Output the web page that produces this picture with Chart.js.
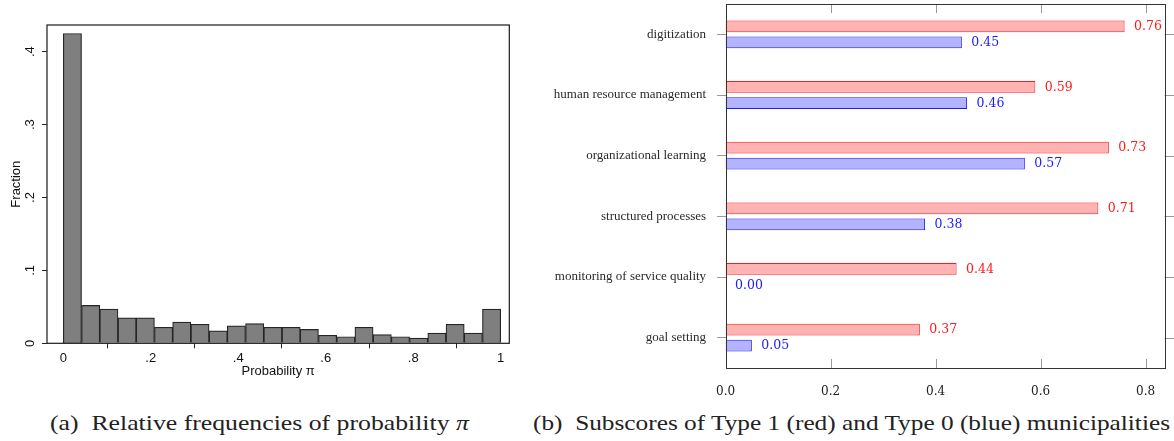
<!DOCTYPE html>
<html>
<head>
<meta charset="utf-8">
<script src="https://cdn.jsdelivr.net/npm/chart.js@4.4.1/dist/chart.umd.min.js"></script>
<style>
  html, body { margin: 0; padding: 0; background: #fff; }
  #wrap { position: relative; width: 1174px; height: 441px; overflow: hidden; }
  canvas { position: absolute; top: 0; }
  #histCanvas { left: 0; }
  #barCanvas { left: 540px; }
  .caption { position: absolute; top: 410px; font-family: 'Liberation Serif', serif; font-size: 22px; line-height: 26px; color: #222; white-space: nowrap; transform-origin: 0 0; }
</style>
</head>
<body>
<div id="wrap">
  <canvas id="histCanvas" width="520" height="400"></canvas>
  <canvas id="barCanvas" width="634" height="400"></canvas>
  <div class="caption" data-left="50" data-right="469">(a)&nbsp; Relative frequencies of probability <i>π</i></div>
  <div class="caption" data-left="533" data-right="1170">(b)&nbsp; Subscores of Type 1 (red) and Type 0 (blue) municipalities</div>
</div>
<script>
// left panel: histogram of probability pi, 24 bins on [0, 1]
const binCount = 24;
const fractions = [0.425, 0.052, 0.047, 0.035, 0.035, 0.022, 0.029, 0.026, 0.017, 0.024, 0.027, 0.022,
                   0.022, 0.019, 0.011, 0.009, 0.022, 0.012, 0.009, 0.007, 0.014, 0.026, 0.014, 0.047];
const histXTicks = [0, 0.2, 0.4, 0.6, 0.8, 1];
const histXLabels = ['0', '.2', '.4', '.6', '.8', '1'];
const histYTicks = [0, 0.1, 0.2, 0.3, 0.4];
const histYLabels = ['0', '.1', '.2', '.3', '.4'];

// right panel: subscores per practice
const practices = ['digitization', 'human resource management', 'organizational learning',
                   'structured processes', 'monitoring of service quality', 'goal setting'];
const type1Scores = [0.76, 0.59, 0.73, 0.71, 0.44, 0.37];
const type0Scores = [0.45, 0.46, 0.57, 0.38, 0.00, 0.05];
const barXTicks = [0, 0.2, 0.4, 0.6, 0.8];
const barXLabels = ['0.0', '0.2', '0.4', '0.6', '0.8'];

const sans = 'Liberation Sans';
const serif = 'Liberation Serif';

// scales must not reserve extra room for their labels
const noPad = s => { s.paddingTop = 0; s.paddingBottom = 0; s.paddingLeft = 0; s.paddingRight = 0; };

const boxPlugin = {
  id: 'box',
  afterDatasetsDraw(chart, args, opts) {
    const { ctx, chartArea: a } = chart;
    ctx.save();
    ctx.strokeStyle = opts.color;
    ctx.lineWidth = opts.width;
    ctx.strokeRect(a.left, a.top, a.right - a.left, a.bottom - a.top);
    ctx.restore();
  }
};

new Chart(document.getElementById('histCanvas'), {
  type: 'bar',
  data: {
    datasets: [{
      data: fractions.map((v, i) => ({ x: (i + 0.5) / binCount, y: v })),
      backgroundColor: '#7f7f7f',
      borderColor: '#262626',
      borderWidth: 1.2,
      barPercentage: 1,
      categoryPercentage: 1
    }]
  },
  options: {
    responsive: false,
    animation: false,
    devicePixelRatio: 1,
    layout: { padding: { top: 25, right: 10.7, left: 0, bottom: 0 } },
    plugins: { legend: { display: false }, tooltip: { enabled: false }, box: { color: '#1a1a1a', width: 1.2 } },
    scales: {
      x: {
        type: 'linear',
        min: -0.0373,
        max: 1.0197,
        offset: false,
        afterBuildTicks: s => { s.ticks = histXTicks.map(v => ({ value: v })); },
        afterFit: s => { s.height = 56.7; noPad(s); },
        grid: { drawOnChartArea: false, tickLength: 5, color: '#262626' },
        border: { display: false },
        ticks: {
          callback: (v, i) => histXLabels[i],
          font: { family: sans, size: 13 },
          color: '#111',
          padding: 2,
          maxRotation: 0
        },
        title: { display: true, text: 'Probability π', font: { family: sans, size: 13 }, color: '#111', padding: { top: 0, bottom: 21 } }
      },
      y: {
        min: 0,
        max: 0.4366,
        afterBuildTicks: s => { s.ticks = histYTicks.map(v => ({ value: v })); },
        afterFit: s => { s.width = 47; noPad(s); },
        grid: { drawOnChartArea: false, tickLength: 5, color: '#262626' },
        border: { display: false },
        ticks: {
          callback: (v, i) => histYLabels[i],
          font: { family: sans, size: 13 },
          color: '#111',
          minRotation: 90,
          maxRotation: 90,
          crossAlign: 'center',
          padding: 6.5
        },
        title: { display: true, text: 'Fraction', font: { family: sans, size: 13 }, color: '#111', padding: { top: 8.2, bottom: 0 } }
      }
    }
  },
  plugins: [boxPlugin]
});

// inward x ticks, outward right ticks and value labels for the bar panel
const barDecor = {
  id: 'barDecor',
  afterDatasetsDraw(chart) {
    const { ctx, chartArea: a, scales: { x, y } } = chart;
    ctx.save();
    ctx.strokeStyle = '#9a9a9a';
    ctx.lineWidth = 1;
    barXTicks.forEach(v => {
      const px = Math.round(x.getPixelForValue(v)) + 0.5;
      ctx.beginPath();
      ctx.moveTo(px, a.bottom); ctx.lineTo(px, a.bottom - 9);
      ctx.moveTo(px, a.top); ctx.lineTo(px, a.top + 9);
      ctx.stroke();
    });
    practices.forEach((p, i) => {
      const py = Math.round(y.getPixelForValue(i)) + 0.5;
      ctx.beginPath();
      ctx.moveTo(a.right, py); ctx.lineTo(a.right + 10, py);
      ctx.stroke();
    });
    ctx.strokeStyle = '#333';
    ctx.lineWidth = 1;
    ctx.strokeRect(Math.round(a.left) + 0.5, Math.round(a.top) + 0.5, Math.round(a.right - a.left), Math.round(a.bottom - a.top));

    ctx.font = '12.5px "DejaVu Serif"';
    ctx.textAlign = 'left';
    ctx.textBaseline = 'middle';
    chart.data.datasets.forEach((ds, di) => {
      const meta = chart.getDatasetMeta(di);
      ctx.fillStyle = ds.labelColor;
      meta.data.forEach((bar, i) => {
        ctx.fillText(ds.data[i].toFixed(2), bar.x + 9.5, bar.y + 0.5);
      });
    });
    ctx.restore();
  }
};

new Chart(document.getElementById('barCanvas'), {
  type: 'bar',
  data: {
    labels: practices,
    datasets: [
      { label: 'Type 1', data: type1Scores, backgroundColor: '#ffb3b3', borderColor: '#ff1a1a', borderWidth: 1, borderSkipped: false, labelColor: '#ff1a1a' },
      { label: 'Type 0', data: type0Scores, backgroundColor: '#b3b3ff', borderColor: '#1a1aff', borderWidth: 1, borderSkipped: false, labelColor: '#1a1aff' }
    ]
  },
  options: {
    indexAxis: 'y',
    responsive: false,
    animation: false,
    devicePixelRatio: 1,
    categoryPercentage: 0.53,
    barPercentage: 0.73,
    layout: { padding: { top: 4, right: 9.3, left: 0, bottom: 0 } },
    plugins: { legend: { display: false }, tooltip: { enabled: false } },
    scales: {
      x: {
        type: 'linear',
        min: 0,
        max: 0.8364,
        afterBuildTicks: s => { s.ticks = barXTicks.map(v => ({ value: v })); },
        afterFit: s => { s.height = 32; noPad(s); },
        grid: { display: false },
        border: { display: false },
        ticks: {
          callback: (v, i) => barXLabels[i],
          font: { family: 'DejaVu Serif', size: 12 },
          color: '#222',
          padding: 8.8,
          maxRotation: 0
        }
      },
      y: {
        type: 'category',
        offset: true,
        afterFit: s => { s.width = 185.6; noPad(s); },
        grid: { offset: false, drawOnChartArea: false, tickLength: 8.5, color: '#9a9a9a' },
        border: { display: false },
        ticks: {
          font: { family: serif, size: 13 },
          color: '#2a2a2a',
          padding: 11
        }
      }
    }
  },
  plugins: [barDecor]
});

document.querySelectorAll('.caption').forEach(el => {
  const left = +el.dataset.left;
  const right = +el.dataset.right;
  el.style.left = left + 'px';
  const w = el.getBoundingClientRect().width;
  el.style.transform = 'scaleX(' + ((right - left) / w).toFixed(3) + ')';
});
</script>
</body>
</html>
